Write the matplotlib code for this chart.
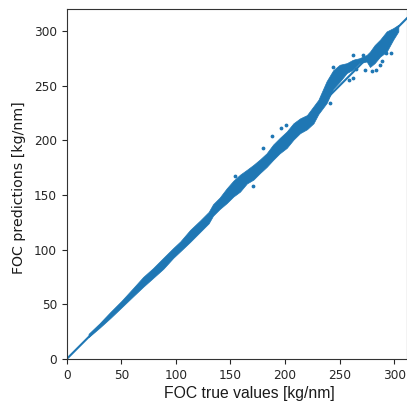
import matplotlib
matplotlib.use("Agg")
import matplotlib.pyplot as plt

# band of the predictions
band_x = [20, 30, 40, 50, 61, 70, 79, 88.5, 97.6, 104, 113, 122, 130, 134, 140, 146.5, 152.6, 158.7, 165, 171, 177,
          183, 189, 195, 201.5, 207.6, 213.7, 220, 226, 230.5, 238, 244, 250, 256.5, 262, 268, 274.7, 277.7, 282,
          287, 293, 299, 303.7]
band_low = [20, 28.5, 37.5, 47, 57.5, 66, 74, 82.5, 92.5, 98.5, 107, 116, 124, 131, 137, 142.5, 148.5, 153, 160.5,
            164, 170, 175.5, 182, 188, 193, 200.5, 206.5, 210, 215.5, 224, 234, 247, 253.5, 261.5, 264.5, 270.5,
            272, 267, 270.5, 276.5, 281, 292, 299.5]
band_high = [23, 32.5, 43, 53, 65, 75, 83, 92.5, 101.5, 107.5, 118, 126.5, 134.5, 141.5, 147.5, 156, 163, 168.5, 173,
             177.5, 182.5, 188, 196, 202, 208, 215.5, 220, 223, 231, 237, 254, 264, 269, 270.5, 273.5, 275, 278,
             281, 287, 292, 299.5, 302.5, 305.5]

# points that sit away from the band
out_x = [154, 171, 180, 188, 196, 201, 241, 244, 262.5, 271, 264, 258.5, 262, 260.7, 265, 271, 273, 280, 283, 287,
         289, 292, 297]
out_y = [167, 158, 193, 204, 211, 214, 234, 267, 277.5, 278, 272.5, 255, 256.5, 268, 265, 274, 264.6, 263, 264.6,
         269, 272.5, 280, 280]

true_line = [0, 320]
pred_line = [0, 320]

fig = plt.figure(figsize=(4.07, 4.03), dpi=100)
ax = fig.add_axes([66.7 / 407, 44 / 403, 340.7 / 407, 350 / 403])

blue = "#1f77b4"
ax.plot(true_line, pred_line, color=blue, linewidth=1.5)
ax.fill_between(band_x, band_low, band_high, color=blue, linewidth=0.5)
ax.scatter(out_x, out_y, s=3, color=blue)

ax.set_xlim(0, 312)
ax.set_ylim(0, 320)
ax.set_xticks([0, 50, 100, 150, 200, 250, 300])
ax.set_yticks([0, 50, 100, 150, 200, 250, 300])
ax.tick_params(labelsize=8.7, colors="#262626")
for s in ax.spines.values():
    s.set_color("#333333")
ax.set_xlabel("FOC true values [kg/nm]", fontsize=11.3, family="Liberation Sans", labelpad=3,
              x=(249.5 - 66.7) / 340.7, color="#1a1a1a")
ax.set_ylabel("FOC predictions [kg/nm]", fontsize=10.2, labelpad=6, y=(359 - 187.5) / 350, color="#1a1a1a")

fig.savefig("out.png", dpi=100)
